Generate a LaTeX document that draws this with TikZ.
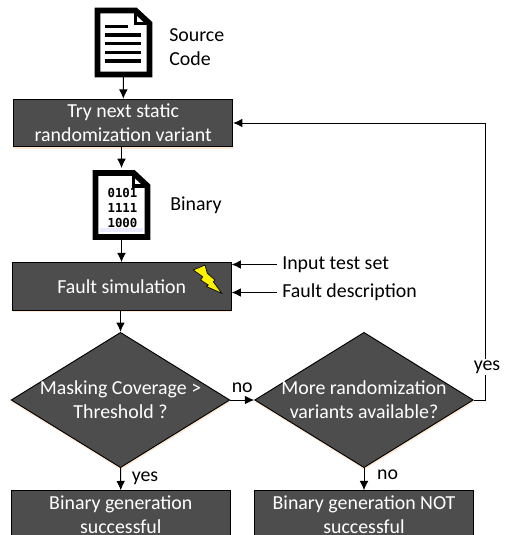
\documentclass[tikz,border=0pt]{standalone}
\usepackage{fontspec}
\setmainfont{Carlito}
\newfontfamily\digitfont{DejaVu Sans Mono}
\usetikzlibrary{shapes.geometric,arrows.meta,shadows}
\definecolor{boxgray}{HTML}{4D4D4D}
\newcommand{\flowfont}{\fontsize{14.9}{18}\selectfont}
\tikzset{
  glow/.style={drop shadow={fill=orange!18,opacity=1,shadow xshift=0.4pt,shadow yshift=-1.6pt}},
  stepbox/.style={draw=black,line width=0.8pt,fill=boxgray,text=white,align=center,glow,
    minimum width=164pt,minimum height=35.5pt,inner sep=0pt,font=\flowfont},
  decision/.style={diamond,draw=black,line width=0.7pt,fill=boxgray,text=white,align=center,glow,
    minimum width=164pt,minimum height=101.5pt,inner sep=-26pt,font=\flowfont},
  caption/.style={anchor=west,inner ysep=0pt,inner xsep=3.75pt,align=left,font=\flowfont},
  flowarrow/.style={line width=0.75pt,-{Latex[length=7pt,width=6.5pt]}},
  docbox/.style={minimum width=42pt,minimum height=51pt,inner sep=0pt},
  docicon/.pic={
    \draw [line width=4.4pt,fill=white,miter limit=10] (-26,-32) -- (12,-32) -- (26,-19) -- (26,32) -- (-26,32) -- cycle ;
    \draw [line width=2.8pt] (12,-32) -- (12,-19) -- (26,-19) ;
  }
}
\begin{document}
\begin{tikzpicture}[x=0.75pt,y=-0.75pt]
\clip (0,0) rectangle (504,535) ;

\pic at (123.5,42.5) {docicon} ;
\node [docbox] (source) at (123.5,42.5) {} ;
\draw [line width=2.4pt] (105,26.7) -- (128,26.7) ;
\foreach \y in {35,43.5,52.3,61}
  \draw [line width=2.4pt] (105,\y) -- (141,\y) ;
\node [caption] (sourcelabel) at (164,47.5) {Source\\Code} ;

\node [stepbox] (try) at (123.25,123) {Try next static\\randomization variant} ;

\pic at (121.5,205) {docicon} ;
\fill [blue!8] (100,228) rectangle (143,231.5) ;
\node [docbox] (binary) at (121.5,205) {} ;
\node [inner sep=0pt,font=\digitfont\bfseries\fontsize{9.3}{11.6}\selectfont,align=center] (digits) at (122.5,208) {0101\\1111\\1000} ;
\node [caption] (binarylabel) at (165,205) {Binary} ;

\node [stepbox] (fault) at (121.75,286.5) {Fault simulation} ;
\draw [black,fill=yellow,line width=0.5pt] (205,265) -- (193.3,270) -- (202.7,276.7) -- (200.7,280) -- (208.3,285) -- (206.5,286.5) -- (221.7,293.3) -- (213.3,281.7) -- (215,280) -- (207.3,273.3) -- cycle ;
\node [caption] (inputset) at (277,264.5) {Input test set} ;
\node [caption] (faultdesc) at (277,292.5) {Fault description} ;

\node [decision] (masking) at (120.5,400) {Masking Coverage >\\Threshold ?} ;
\node [decision] (more) at (364,400) {More randomization\\variants available?} ;

\node [stepbox] (good) at (120.75,514.5) {Binary generation\\successful} ;
\node [stepbox] (bad) at (364,514.5) {Binary generation NOT\\successful} ;

\coordinate (turn) at (485.5,400) ;
\draw [flowarrow] (source) -- (try) ;
\draw [flowarrow,shorten >=2pt] (try.south -| binary) -- (binary.north) ;
\draw [flowarrow] (binary.south) -- (fault.north -| binary) ;
\draw [flowarrow] (fault.south -| masking) -- (masking.north) ;
\draw [flowarrow] (inputset.west) -- (inputset.west -| fault.east) ;
\draw [flowarrow] (faultdesc.west) -- (faultdesc.west -| fault.east) ;
\draw [flowarrow] (masking.east) -- (more.west) node [midway,above=5pt,inner sep=0pt,font=\flowfont] (nolabel) {no} ;
\draw [flowarrow] (masking.south) -- (good.north) node [midway,right=8pt,inner sep=0pt,yshift=1pt,font=\flowfont] (yeslabel) {yes} ;
\draw [flowarrow] (more.south) -- (bad.north) node [midway,right=9.5pt,inner sep=0pt,yshift=3.5pt,font=\flowfont] (nolabeltwo) {no} ;
\draw [flowarrow] (more.east) -- (turn) -- (turn |- try.east) -- (try.east) ;
\node [fill=white,inner sep=1pt,font=\flowfont] (again) at (487,367) {yes} ;
\end{tikzpicture}
\end{document}
